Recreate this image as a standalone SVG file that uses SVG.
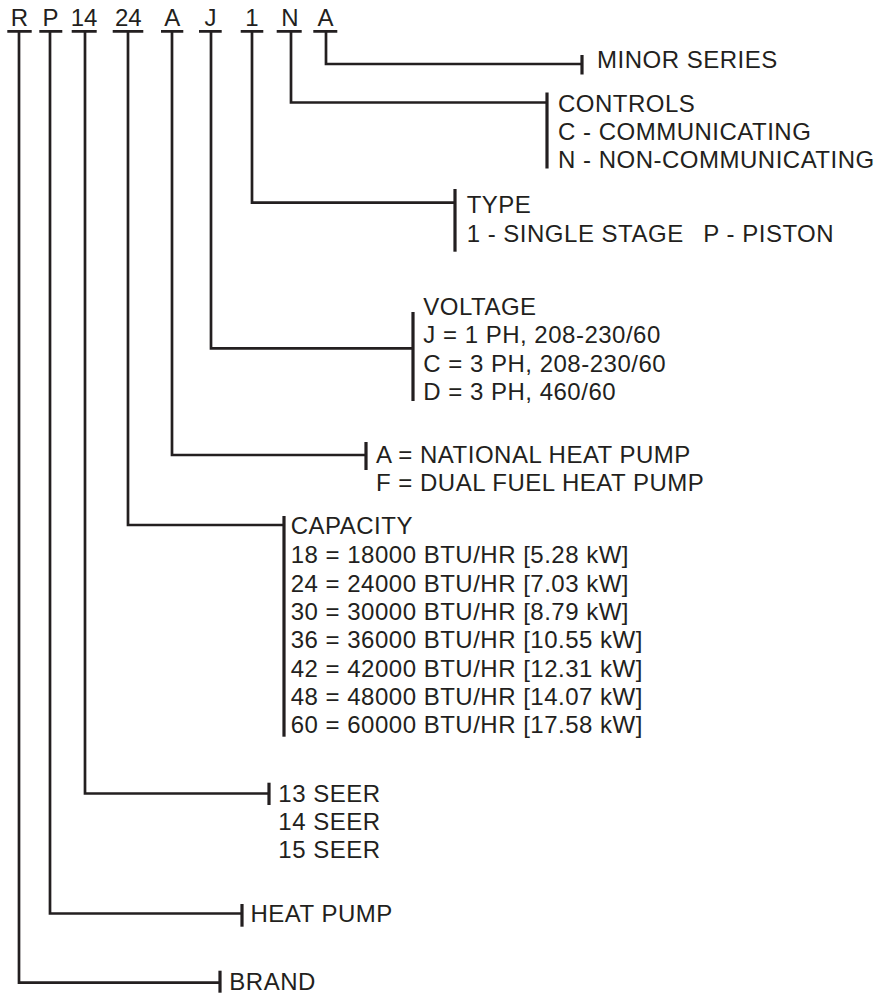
<svg xmlns="http://www.w3.org/2000/svg" width="881" height="996" viewBox="0 0 881 996">
<style>
text{font-family:"Liberation Sans",Arial,sans-serif;font-size:24px;fill:#231f20;letter-spacing:0.5px}
.hd{text-anchor:middle;letter-spacing:0}
.ln{fill:none;stroke:#231f20;stroke-width:2.7}
.tk{fill:none;stroke:#231f20;stroke-width:3.2}
</style>
<rect width="881" height="996" fill="#fff"/>
<g id="header">
<text class="hd" x="19.5" y="26">R</text>
<text class="hd" x="50.5" y="26">P</text>
<text class="hd" x="84" y="26">14</text>
<text class="hd" x="128.3" y="26">24</text>
<text class="hd" x="172.3" y="26">A</text>
<text class="hd" x="210.5" y="26">J</text>
<text class="hd" x="252" y="26">1</text>
<text class="hd" x="290" y="26">N</text>
<text class="hd" x="325.5" y="26">A</text>
<path class="ln" d="M7.3 31.3H31.7M39.3 31.3H62.3M71.7 31.3H96.7M112.7 31.3H143.3M161 31.3H183.3M199 31.3H221.7M240.7 31.3H263.3M276.7 31.3H301.7M313.3 31.3H337.3"/>
</g>
<g id="connectors">
<path class="ln" d="M326 31V64H582"/>
<path class="tk" d="M582 55V74.5"/>
<path class="ln" d="M291 31V102.5H547"/>
<path class="tk" d="M547 92.5V168.5"/>
<path class="ln" d="M252 31V202.7H455"/>
<path class="tk" d="M455 189V251.7"/>
<path class="ln" d="M211 31V348.3H413"/>
<path class="tk" d="M413 312V401"/>
<path class="ln" d="M172 31V455H366"/>
<path class="tk" d="M366 442V470"/>
<path class="ln" d="M128 31V525H284"/>
<path class="tk" d="M284 516V736.7"/>
<path class="ln" d="M85 31V793.5H269"/>
<path class="tk" d="M269 782.7V805"/>
<path class="ln" d="M50 31V913.5H242"/>
<path class="tk" d="M242 904V926.7"/>
<path class="ln" d="M19 31V982.7H220"/>
<path class="tk" d="M220 970.7V992.7"/>
</g>
<g id="minor-series">
<text x="597" y="68.3">MINOR SERIES</text>
</g>
<g id="controls">
<text x="558" y="111.7">CONTROLS</text>
<text x="558" y="140">C - COMMUNICATING</text>
<text x="558" y="168.3">N - NON-COMMUNICATING</text>
</g>
<g id="type">
<text x="466.7" y="212.7">TYPE</text>
<text x="466.7" y="241.7">1 - SINGLE STAGE<tspan x="703.3">P - PISTON</tspan></text>
</g>
<g id="voltage">
<text x="423.3" y="315">VOLTAGE</text>
<text x="423.3" y="343.3">J = 1 PH, 208-230/60</text>
<text x="423.3" y="371.7">C = 3 PH, 208-230/60</text>
<text x="423.3" y="400">D = 3 PH, 460/60</text>
</g>
<g id="application">
<text x="376" y="462.5">A = NATIONAL HEAT PUMP</text>
<text x="376" y="491">F = DUAL FUEL HEAT PUMP</text>
</g>
<g id="capacity">
<text x="290.7" y="534">CAPACITY</text>
<text x="290.7" y="563.3">18 = 18000 BTU/HR [5.28 kW]</text>
<text x="290.7" y="591.7">24 = 24000 BTU/HR [7.03 kW]</text>
<text x="290.7" y="620">30 = 30000 BTU/HR [8.79 kW]</text>
<text x="290.7" y="648.3">36 = 36000 BTU/HR [10.55 kW]</text>
<text x="290.7" y="676.7">42 = 42000 BTU/HR [12.31 kW]</text>
<text x="290.7" y="705">48 = 48000 BTU/HR [14.07 kW]</text>
<text x="290.7" y="733.3">60 = 60000 BTU/HR [17.58 kW]</text>
</g>
<g id="seer">
<text x="278.3" y="801.7">13 SEER</text>
<text x="278.3" y="830">14 SEER</text>
<text x="278.3" y="858.3">15 SEER</text>
</g>
<g id="heat-pump">
<text x="250.5" y="921.7">HEAT PUMP</text>
</g>
<g id="brand">
<text x="229.3" y="990">BRAND</text>
</g>
</svg>
